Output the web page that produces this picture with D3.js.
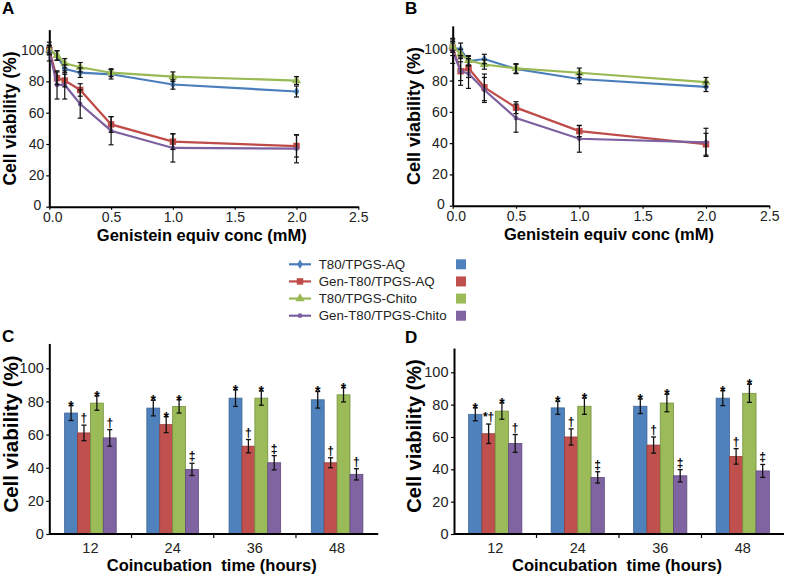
<!DOCTYPE html>
<html><head><meta charset="utf-8">
<script src="https://cdn.jsdelivr.net/npm/d3@7"></script>
<style>
body{margin:0;background:#fff;}
svg{display:block;font-family:"Liberation Sans",Arial,sans-serif;}
.axis path,.axis line{stroke:#000;}
.axis path{stroke-width:2;}
.axis line{stroke-width:1.2;}
.axis text{fill:#222;}
</style></head><body>
<svg id="chart" width="785" height="575"></svg>
<script>
// ---------- DATA ----------
const seriesNames = ["T80/TPGS-AQ", "Gen-T80/TPGS-AQ", "T80/TPGS-Chito", "Gen-T80/TPGS-Chito"];
const concentrations = [0, 0.0625, 0.125, 0.25, 0.5, 1.0, 2.0];
const concTicks = [0, 0.5, 1.0, 1.5, 2.0, 2.5];
const viabilityTicks = [0, 20, 40, 60, 80, 100];
const hours = ["12", "24", "36", "48"];

// Panel A (line chart)
const a_T80AQ        = [100, 96.5, 88, 85.5, 84.5, 78, 73.5];
const a_T80AQ_err    = [3, 3, 2.5, 3, 3, 3, 3.5];
const a_GenAQ        = [100, 82, 80.5, 74.5, 52.5, 41.5, 38.7];
const a_GenAQ_err    = [3, 4, 4, 4, 5, 5, 7];
const a_T80Chito     = [100, 96.5, 91.5, 89, 85.5, 83, 80.5];
const a_T80Chito_err = [2, 3, 3, 3, 2.5, 3, 2.5];
const a_GenChito     = [99, 77.7, 77.7, 65.5, 48.5, 37.5, 37];
const a_GenChito_err = [6, 9, 9, 9, 9, 9, 9];

// Panel B (line chart)
const b_T80AQ        = [101, 100, 92.5, 93.8, 87.4, 81, 76];
const b_T80AQ_err    = [3, 4, 3, 3, 3, 3, 3];
const b_GenAQ        = [101, 86, 88, 75.7, 62.7, 47.7, 39.3];
const b_GenAQ_err    = [5, 6, 6, 8.5, 3.8, 3.5, 7];
const b_T80Chito     = [102, 97, 93, 90.3, 87.8, 85, 79];
const b_T80Chito_err = [3, 3, 3, 3, 3, 3, 3];
const b_GenChito     = [99, 86, 84.5, 74, 56, 42.8, 40.5];
const b_GenChito_err = [8, 9, 9.5, 8, 9, 8.6, 9];

// Panel C (bar chart)
const c_T80AQ        = [73, 76, 82, 81];
const c_T80AQ_err    = [4.5, 4.7, 5, 5];
const c_GenAQ        = [61, 66, 53, 43];
const c_GenAQ_err    = [4.7, 4.8, 4, 3];
const c_T80Chito     = [79, 77, 82, 84];
const c_T80Chito_err = [4.3, 4, 4.3, 4.3];
const c_GenChito     = [58, 39, 43, 36];
const c_GenChito_err = [5, 3.7, 4.3, 3.4];
const c_marks = [["*","*","*","*"], ["†","*","†","†"], ["*","*","*","*"], ["†","‡","‡","†"]];

// Panel D (bar chart)
const d_T80AQ        = [74, 78, 79, 84];
const d_T80AQ_err    = [4, 4, 4.5, 4.6];
const d_GenAQ        = [62, 60, 55, 48];
const d_GenAQ_err    = [6, 5, 5, 4.8];
const d_T80Chito     = [76, 79, 81, 87];
const d_T80Chito_err = [5, 5, 5.4, 5.6];
const d_GenChito     = [56, 35, 36, 39];
const d_GenChito_err = [5.5, 3.5, 3.8, 4];
const d_marks = [["*","*","*","*"], ["*†","†","†","†"], ["*","*","*","*"], ["†","‡","‡","‡"]];

// ---------- STYLE ----------
const lineColors = ["#4a7ebb", "#be4b48", "#98b954", "#7d60a0"];
const barColors  = ["#4f81bd", "#c0504d", "#9bbb59", "#8064a2"];
const barStrokes = ["#3d6796", "#953c3a", "#76913f", "#5f4a7c"];
const symbols = [d3.symbolDiamond, d3.symbolSquare, d3.symbolTriangle, d3.symbolCircle];
const symSizes = [26, 42, 36, 18];

const svg = d3.select("#chart");

function panelLetter(txt, x, y) {
  svg.append("text").attr("x", x).attr("y", y).attr("font-size", 17).attr("font-weight", "bold").text(txt);
}

function linePanel(cfg) {
  const g = svg.append("g");
  const x = d3.scaleLinear().domain([0, 2.5]).range([cfg.x0, cfg.x1]);
  const unit = (cfg.y0 - cfg.y100) / 100;
  const y = d3.scaleLinear().domain([0, cfg.ymax]).range([cfg.y0, cfg.y0 - unit * cfg.ymax]);

  g.append("g").attr("class", "axis").attr("transform", `translate(${cfg.x0},0)`)
    .call(d3.axisLeft(y).tickValues(viabilityTicks).tickSize(3).tickSizeOuter(0).tickPadding(2))
    .call(s => s.selectAll("text").attr("font-size", 14).attr("font-family", "Liberation Sans, Arial, sans-serif"))
    .call(s => s.selectAll(".tick text").filter(d => d === 0).attr("dx", -3).attr("dy", "0.2em"));
  g.append("g").attr("class", "axis").attr("transform", `translate(0,${cfg.y0})`)
    .call(d3.axisBottom(x).tickValues(concTicks).tickFormat(d3.format(".1f")).tickSize(3).tickSizeOuter(0).tickPadding(2))
    .call(s => s.selectAll("text").attr("font-size", 14).attr("font-family", "Liberation Sans, Arial, sans-serif"))
    .call(s => s.selectAll(".tick text").filter(d => d === 0).attr("dx", 3));

  cfg.values.forEach((vals, i) => {
    const pts = vals.map((v, j) => ({ c: concentrations[j], v: v, e: cfg.errs[i][j] }));
    g.append("path").datum(pts)
      .attr("fill", "none").attr("stroke", lineColors[i]).attr("stroke-width", 2.2)
      .attr("d", d3.line().x(d => x(d.c)).y(d => y(d.v)));
    g.selectAll(null).data(pts).enter().append("path")
      .attr("transform", d => `translate(${x(d.c)},${y(d.v)})`)
      .attr("d", d3.symbol().type(symbols[i]).size(symSizes[i]))
      .attr("fill", lineColors[i]);
  });
  cfg.values.forEach((vals, i) => {
    const pts = vals.map((v, j) => ({ c: concentrations[j], v: v, e: cfg.errs[i][j] }));
    const eb = g.selectAll(null).data(pts).enter().append("g").attr("stroke", "#111").attr("stroke-width", 1.2);
    eb.append("line").attr("x1", d => x(d.c)).attr("x2", d => x(d.c)).attr("y1", d => y(d.v - d.e)).attr("y2", d => y(d.v + d.e));
    eb.append("line").attr("x1", d => x(d.c) - 2.5).attr("x2", d => x(d.c) + 2.5).attr("y1", d => y(d.v - d.e)).attr("y2", d => y(d.v - d.e));
    eb.append("line").attr("x1", d => x(d.c) - 2.5).attr("x2", d => x(d.c) + 2.5).attr("y1", d => y(d.v + d.e)).attr("y2", d => y(d.v + d.e));
  });

  g.append("text").attr("x", (cfg.x0 + cfg.x1) / 2 - 2).attr("y", cfg.y0 + 34)
    .attr("text-anchor", "middle").attr("font-size", 16.5).attr("font-weight", "bold").attr("fill", "#000").text("Genistein equiv conc (mM)");
  g.append("text").attr("transform", `translate(${cfg.ytx},${cfg.yty}) rotate(-90)`)
    .attr("text-anchor", "middle").attr("font-size", cfg.ytSize).attr("font-weight", "bold").attr("fill", "#000").text("Cell viability (%)");
}

function barPanel(cfg) {
  const g = svg.append("g");
  const x0 = d3.scaleBand().domain(hours).range([cfg.x0, cfg.x1]).paddingInner(0).paddingOuter(0);
  const half = cfg.barW * 2;
  const x1 = d3.scaleBand().domain(seriesNames).range([-half, half]);
  const unit = (cfg.y0 - cfg.y100) / 100;
  const y = d3.scaleLinear().domain([0, cfg.ymax]).range([cfg.y0, cfg.y0 - unit * cfg.ymax]);

  g.append("g").attr("class", "axis").attr("transform", `translate(${cfg.x0},0)`)
    .call(d3.axisLeft(y).tickValues(viabilityTicks).tickSize(3).tickSizeOuter(0).tickPadding(2.5))
    .call(s => s.selectAll("text").attr("font-size", 14.5).attr("font-family", "Liberation Sans, Arial, sans-serif"));

  cfg.values.forEach((vals, i) => {
    const pts = vals.map((v, j) => ({ h: hours[j], v: v, e: cfg.errs[i][j], m: cfg.marks[i][j] }));
    g.selectAll(null).data(pts).enter().append("rect")
      .attr("x", d => x0(d.h) + x0.bandwidth() / 2 + x1(seriesNames[i]))
      .attr("width", x1.bandwidth())
      .attr("y", d => y(d.v)).attr("height", d => y(0) - y(d.v))
      .attr("fill", barColors[i]).attr("stroke", barStrokes[i]).attr("stroke-width", 0.8);
    const cx = d => x0(d.h) + x0.bandwidth() / 2 + x1(seriesNames[i]) + x1.bandwidth() / 2;
    const eb = g.selectAll(null).data(pts).enter().append("g").attr("stroke", "#111").attr("stroke-width", 1.3);
    eb.append("line").attr("x1", cx).attr("x2", cx).attr("y1", d => y(d.v - d.e)).attr("y2", d => y(d.v + d.e));
    eb.append("line").attr("x1", d => cx(d) - 2.5).attr("x2", d => cx(d) + 2.5).attr("y1", d => y(d.v - d.e)).attr("y2", d => y(d.v - d.e));
    eb.append("line").attr("x1", d => cx(d) - 2.5).attr("x2", d => cx(d) + 2.5).attr("y1", d => y(d.v + d.e)).attr("y2", d => y(d.v + d.e));
    g.selectAll(null).data(pts).enter().append("text")
      .attr("x", cx)
      .attr("y", d => y(d.v + d.e) + (d.m === "*" ? 5 : -3))
      .attr("text-anchor", "middle")
      .attr("font-size", d => d.m === "*" ? 14 : 12)
      .attr("font-weight", "bold")
      .attr("fill", "#000")
      .text(d => d.m);
  });

  // x axis
  g.append("line").attr("x1", cfg.x0).attr("x2", cfg.x1).attr("y1", cfg.y0).attr("y2", cfg.y0)
    .attr("stroke", "#000").attr("stroke-width", 2);
  g.selectAll(null).data(hours.slice(1)).enter().append("line")
    .attr("x1", d => x0(d)).attr("x2", d => x0(d)).attr("y1", cfg.y0).attr("y2", cfg.y0 + 4)
    .attr("stroke", "#000").attr("stroke-width", 1.2);
  g.selectAll(null).data(hours).enter().append("text")
    .attr("x", d => x0(d) + x0.bandwidth() / 2).attr("y", cfg.y0 + 19)
    .attr("text-anchor", "middle").attr("font-size", 14.5).attr("fill", "#222").text(d => d);

  g.append("text").attr("x", (cfg.x0 + cfg.x1) / 2 - 2).attr("y", cfg.y0 + 37)
    .attr("text-anchor", "middle").attr("font-size", 16.5).attr("font-weight", "bold").attr("fill", "#000")
    .style("white-space", "pre").attr("xml:space", "preserve").text("Coincubation  time (hours)");
  g.append("text").attr("transform", `translate(${cfg.ytx},${cfg.yty}) rotate(-90)`)
    .attr("text-anchor", "middle").attr("font-size", cfg.ytSize).attr("font-weight", "bold").attr("fill", "#000").text("Cell viability (%)");
}

// ---------- PANELS ----------
panelLetter("A", 2, 14);
linePanel({ x0: 49.3, x1: 358.3, y0: 206.7, y100: 50, ymax: 113,
  values: [a_T80AQ, a_GenAQ, a_T80Chito, a_GenChito],
  errs: [a_T80AQ_err, a_GenAQ_err, a_T80Chito_err, a_GenChito_err],
  ytx: 16, yty: 118.5, ytSize: 17.5 });

panelLetter("B", 405, 14);
linePanel({ x0: 452.7, x1: 769.3, y0: 205.7, y100: 49.3, ymax: 115,
  values: [b_T80AQ, b_GenAQ, b_T80Chito, b_GenChito],
  errs: [b_T80AQ_err, b_GenAQ_err, b_T80Chito_err, b_GenChito_err],
  ytx: 420, yty: 116, ytSize: 18 });

panelLetter("C", 2, 342);
barPanel({ x0: 49.3, x1: 378.2, y0: 534, y100: 368.3, ymax: 115, barW: 12.9,
  values: [c_T80AQ, c_GenAQ, c_T80Chito, c_GenChito],
  errs: [c_T80AQ_err, c_GenAQ_err, c_T80Chito_err, c_GenChito_err],
  marks: c_marks, ytx: 18, yty: 434, ytSize: 20.5 });

panelLetter("D", 405, 343);
barPanel({ x0: 454, x1: 784, y0: 534, y100: 372.3, ymax: 115, barW: 13.3,
  values: [d_T80AQ, d_GenAQ, d_T80Chito, d_GenChito],
  errs: [d_T80AQ_err, d_GenAQ_err, d_T80Chito_err, d_GenChito_err],
  marks: d_marks, ytx: 421, yty: 436, ytSize: 20 });

// ---------- LEGEND ----------
const legendY = d3.scalePoint().domain(seriesNames).range([264.3, 315.7]);
const lg = svg.append("g");
seriesNames.forEach((name, i) => {
  const yy = legendY(name);
  lg.append("line").attr("x1", 289).attr("x2", 311).attr("y1", yy).attr("y2", yy)
    .attr("stroke", lineColors[i]).attr("stroke-width", 2.2);
  lg.append("path").attr("transform", `translate(300,${yy})`)
    .attr("d", d3.symbol().type(symbols[i]).size(symSizes[i])).attr("fill", lineColors[i]);
  lg.append("text").attr("x", 318.7).attr("y", yy + 4.7).attr("font-size", 13.3).attr("fill", "#222").text(name);
  lg.append("rect").attr("x", 456).attr("y", yy - 5).attr("width", 10).attr("height", 10)
    .attr("fill", barColors[i]);
});
</script>
</body></html>
